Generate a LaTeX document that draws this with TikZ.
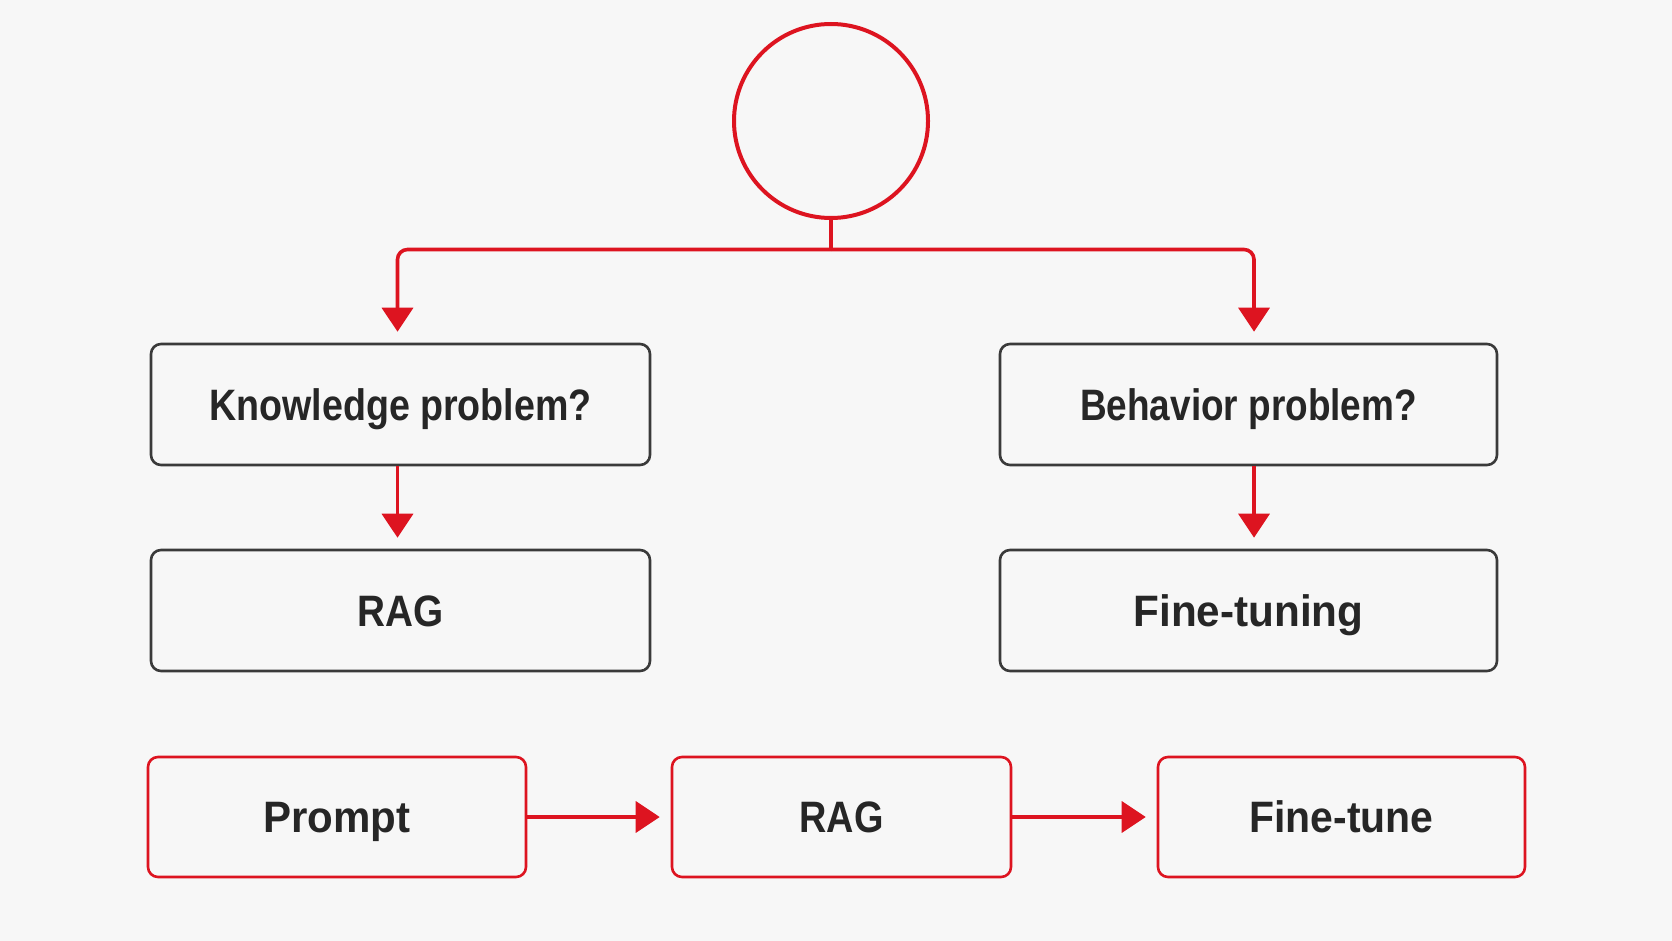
\documentclass[tikz,border=0pt]{standalone}
\usepackage{fontspec}
\setmainfont{Liberation Sans}
\usetikzlibrary{arrows.meta}
\definecolor{bgc}{HTML}{F7F7F7}
\definecolor{redc}{HTML}{DD1420}
\definecolor{txt}{HTML}{262626}
\definecolor{brd}{HTML}{3A3A3A}
\newcommand{\hsq}[2]{\scalebox{#1}[1]{#2}}
\tikzset{
  box/.style={draw=brd, line width=2.6pt, rounded corners=10pt, fill=bgc, minimum height=121pt, text=txt, font=\fontsize{44}{48}\selectfont\bfseries, inner sep=0pt, text height=31.5pt, text depth=0pt},
  redbox/.style={box, draw=redc},
  conn/.style={draw=redc, line width=3.6pt},
  arr/.style={conn, -{Triangle[width=31pt,length=24pt]}, shorten >=11pt}
}
\begin{document}
\begin{tikzpicture}[x=1pt,y=-1pt]
\fill[bgc] (0,0) rectangle (1672,941);
\useasboundingbox (0,0) rectangle (1672,941);
\node[draw=redc, line width=4pt, circle, minimum size=194pt, inner sep=0pt] (circ) at (831,121) {};
\coordinate (junc) at (831,249.5);
\node[box, minimum width=499pt] (know) at (400.5,404.5) {\hsq{0.855}{Knowledge problem?}};
\node[box, minimum width=499pt] (rag1) at (400.5,610.5) {\hsq{0.88}{RAG}};
\node[box, minimum width=497pt] (behav) at (1248.5,404.5) {\hsq{0.84}{Behavior problem?}};
\node[box, minimum width=497pt] (ft) at (1248.5,610.5) {\hsq{0.96}{Fine-tuning}};
\node[redbox, minimum width=378pt, minimum height=120pt] (prompt) at (337,817) {\hsq{0.955}{Prompt}};
\node[redbox, minimum width=339pt, minimum height=120pt] (rag2) at (841.5,817) {\hsq{0.86}{RAG}};
\node[redbox, minimum width=367pt, minimum height=120pt] (ftune) at (1341.5,817) {\hsq{0.93}{Fine-tune}};
\draw[conn] (circ.south) -- (junc);
\draw[arr, rounded corners=10pt] (junc) -| ([xshift=-3pt]know.north);
\draw[arr, rounded corners=10pt] (junc) -| ([xshift=5.5pt]behav.north);
\draw[arr] ([xshift=-3pt]know.south) -- ([xshift=-3pt]rag1.north);
\draw[arr] ([xshift=5.5pt]behav.south) -- ([xshift=5.5pt]ft.north);
\draw[arr] (prompt.east) -- (rag2.west);
\draw[arr] (rag2.east) -- (ftune.west);
\end{tikzpicture}
\end{document}
